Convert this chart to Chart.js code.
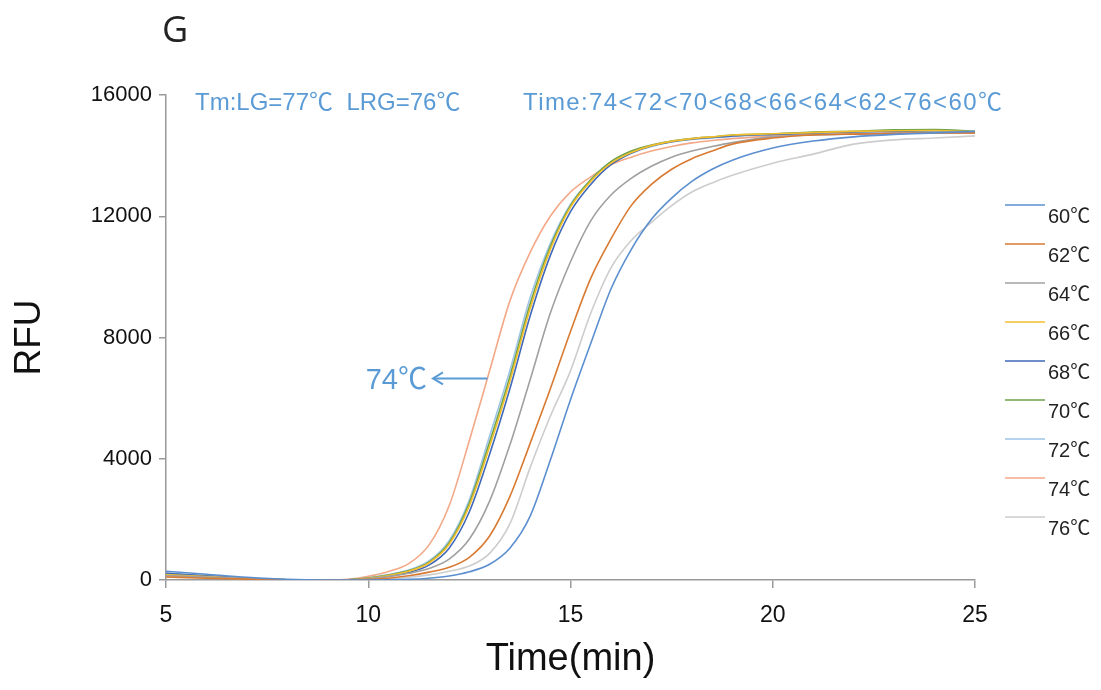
<!DOCTYPE html>
<html>
<head>
<meta charset="utf-8">
<script src="https://cdn.jsdelivr.net/npm/chart.js@4.4.1/dist/chart.umd.min.js"></script>
<style>
  html, body { margin: 0; padding: 0; background: #fff; }
  canvas { display: block; }
</style>
</head>
<body>
<canvas id="chart" width="1101" height="690"></canvas>
<script>
// sampling times (min)
const times = [5, 6, 7, 8, 9, 9.5, 10, 10.5, 11, 11.5, 12, 12.5, 13, 13.5, 14, 14.5, 15, 15.5,
  16, 16.5, 17, 17.5, 18, 18.5, 19, 20, 21, 22, 23, 24, 25];

// RFU per temperature
const rfu60 = [290, 190, 90, 20, 0, 0, 0, 5, 20, 60, 130, 270, 520, 1050, 2100, 3950, 5950, 7800,
  9600, 10900, 11900, 12600, 13150, 13550, 13850, 14250, 14480, 14620, 14700, 14750, 14800];
const rfu62 = [100, 60, 30, 5, 0, 0, 20, 60, 140, 260, 420, 750, 1450, 2750, 4500, 6300, 8200, 9950,
  11250, 12350, 13050, 13550, 13900, 14150, 14380, 14580, 14680, 14710, 14730, 14750, 14750];
const rfu64 = [150, 100, 50, 10, 0, 0, 40, 110, 220, 380, 690, 1350, 2600, 4450, 6600, 8800, 10500, 11850,
  12700, 13250, 13650, 13950, 14150, 14300, 14430, 14620, 14680, 14710, 14730, 14750, 14750];
const rfu66 = [180, 110, 50, 10, 0, 10, 60, 150, 290, 560, 1180, 2450, 4400, 6550, 8950, 10900, 12300, 13150,
  13750, 14100, 14330, 14470, 14560, 14620, 14680, 14720, 14760, 14800, 14820, 14830, 14780];
const rfu68 = [220, 140, 60, 10, 0, 5, 45, 130, 250, 490, 1050, 2250, 4150, 6300, 8700, 10700, 12150, 13050,
  13700, 14080, 14320, 14460, 14550, 14600, 14650, 14700, 14740, 14780, 14800, 14820, 14780];
const rfu70 = [200, 120, 55, 10, 0, 10, 65, 160, 310, 590, 1230, 2550, 4550, 6700, 9100, 11000, 12350, 13200,
  13800, 14150, 14350, 14480, 14560, 14620, 14680, 14720, 14780, 14800, 14850, 14860, 14800];
const rfu72 = [230, 140, 60, 10, 0, 10, 75, 180, 330, 630, 1300, 2650, 4750, 6900, 9300, 11100, 12400, 13200,
  13800, 14100, 14300, 14450, 14530, 14580, 14630, 14700, 14750, 14780, 14800, 14820, 14780];
const rfu74 = [150, 100, 50, 10, 0, 20, 120, 280, 540, 1150, 2450, 4600, 6900, 9200, 10800, 12000, 12800, 13300,
  13700, 13950, 14150, 14300, 14420, 14500, 14560, 14650, 14700, 14720, 14750, 14760, 14750];
const rfu76 = [120, 80, 40, 5, 0, 0, 10, 35, 90, 170, 290, 460, 880, 1850, 3700, 5400, 6900, 8800,
  10300, 11200, 11800, 12350, 12800, 13100, 13350, 13750, 14050, 14380, 14520, 14580, 14650];

const labels = ["60℃", "62℃", "64℃", "66℃", "68℃", "70℃", "72℃", "74℃", "76℃"];
const series = [rfu60, rfu62, rfu64, rfu66, rfu68, rfu70, rfu72, rfu74, rfu76];
const colors = ["#5b8fcf", "#d97a32", "#a0a0a0", "#f2be2c", "#4169b8", "#6ea348", "#9ec5e8", "#f3a888", "#cdcdcd"];

const FONT = "'Liberation Sans', 'Noto Sans CJK SC', sans-serif";
const NOTE = "#5b9bd5";

/* ---------- annotations + legend ---------- */
const extras = {
  id: "extras",
  beforeDraw(chart) {
    const c = chart.ctx;
    c.save(); c.fillStyle = "#fff"; c.fillRect(0, 0, chart.width, chart.height); c.restore();
  },
  afterDraw(chart) {
    const c = chart.ctx, xs = chart.scales.x, ys = chart.scales.y, area = chart.chartArea;
    c.save();
    // panel letter
    c.fillStyle = "#222"; c.textBaseline = "middle"; c.textAlign = "left";
    c.font = "36px 'Open Sans', sans-serif";
    c.fillText("G", area.left - 4, 32);

    // notes at the top
    c.fillStyle = NOTE; c.font = "24px " + FONT;
    c.fillText("Tm:LG=77℃  LRG=76℃", area.left + 29, area.top + 8);
    c.letterSpacing = "1.4px";
    c.fillText("Time:74<72<70<68<66<64<62<76<60℃", area.left + 357, area.top + 8);
    c.letterSpacing = "0px";

    // 74 ℃ arrow
    const ay = ys.getPixelForValue(6650);
    const x0 = xs.getPixelForValue(11.6), x1 = xs.getPixelForValue(12.95);
    c.font = "29px " + FONT;
    c.textAlign = "right";
    c.fillText("74℃", x0 - 6, ay + 3);
    c.strokeStyle = NOTE; c.lineWidth = 2;
    c.beginPath(); c.moveTo(x0, ay); c.lineTo(x1, ay); c.stroke();
    c.beginPath(); c.moveTo(x0 + 10, ay - 6); c.lineTo(x0, ay); c.lineTo(x0 + 10, ay + 6); c.stroke();

    // legend (line, label just below-right)
    c.textAlign = "left"; c.font = "20px " + FONT; c.fillStyle = "#222";
    chart.data.datasets.forEach((ds, i) => {
      const y = 205 + i * 39;
      c.strokeStyle = ds.borderColor; c.lineWidth = 1.6;
      c.beginPath(); c.moveTo(area.right + 30, y); c.lineTo(area.right + 70, y); c.stroke();
      c.fillText(ds.label, area.right + 73, y + 12);
    });
    c.restore();
  }
};

new Chart(document.getElementById("chart"), {
  type: "line",
  data: {
    datasets: series.map((s, i) => ({
      label: labels[i],
      data: times.map((t, j) => ({ x: t, y: s[j] })),
      borderColor: colors[i],
      borderWidth: 1.6,
      pointRadius: 0,
      cubicInterpolationMode: "monotone",
      fill: false
    }))
  },
  options: {
    responsive: false, animation: false,
    layout: { padding: { left: 0, right: 126, top: 95, bottom: 0 } },
    plugins: { legend: { display: false }, tooltip: { enabled: false } },
    scales: {
      x: {
        type: "linear", min: 5, max: 25,
        ticks: { stepSize: 5, color: "#111", font: { family: FONT, size: 23 }, padding: 14 },
        grid: { display: true, drawOnChartArea: false, drawTicks: true, tickLength: 8, color: "#9a9a9a", lineWidth: 1.5 },
        border: { color: "#9a9a9a", width: 1.5 },
        title: { display: true, text: "Time(min)", color: "#111", font: { family: FONT, size: 38 }, padding: { top: 0, bottom: 8 } },
        afterFit: (s) => { s.height = 110; }
      },
      y: {
        min: 0, max: 16000,
        ticks: { stepSize: 4000, color: "#111", font: { family: FONT, size: 22 }, padding: 7, callback: (v) => String(v) },
        grid: { display: true, drawOnChartArea: false, drawTicks: true, tickLength: 7, color: "#9a9a9a", lineWidth: 1.5 },
        border: { color: "#9a9a9a", width: 1.5 },
        title: { display: true, text: "RFU", color: "#111", font: { family: FONT, size: 37 }, padding: { top: 8, bottom: 0 } },
        afterFit: (s) => { s.width = 166; }
      }
    }
  },
  plugins: [extras]
});
</script>
</body>
</html>
